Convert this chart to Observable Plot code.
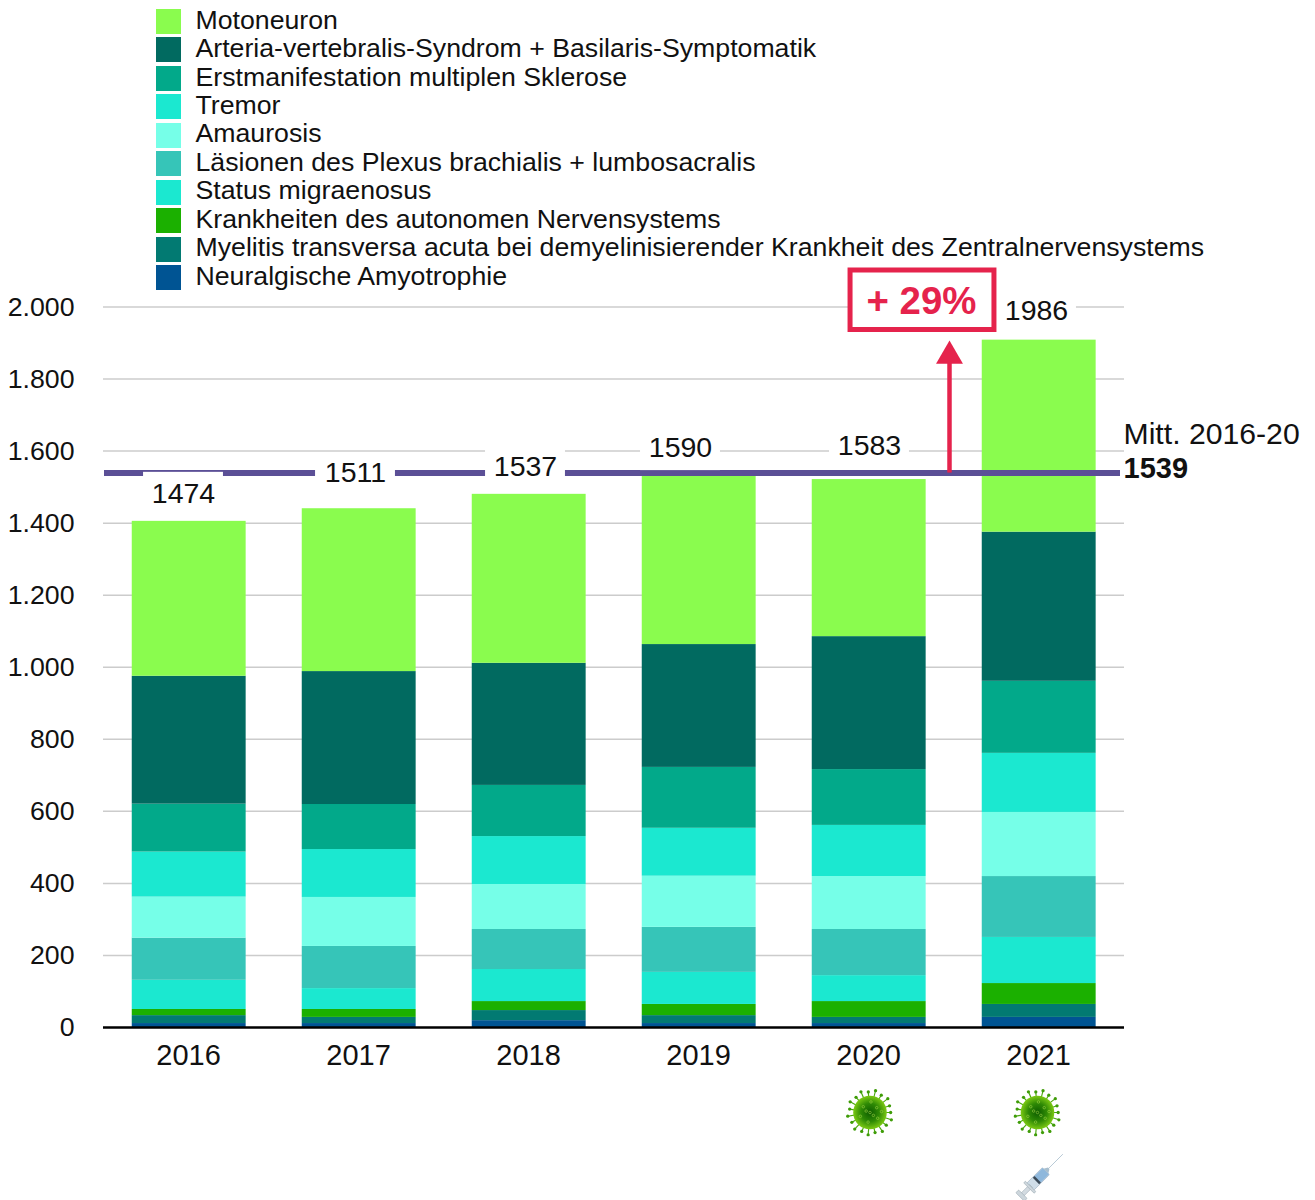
<!DOCTYPE html>
<html>
<head>
<meta charset="utf-8">
<script src="https://cdn.jsdelivr.net/npm/d3@7"></script>
<script src="https://cdn.jsdelivr.net/npm/@observablehq/plot@0.6"></script>
<style>
html,body{margin:0;padding:0;background:#fff;width:1315px;height:1200px;overflow:hidden}
#chart{position:absolute;left:0;top:0}
#legend{position:absolute;left:156px;top:7.3px;font-family:"Liberation Sans",Arial,sans-serif;font-size:26.7px;color:#111}
.row{display:flex;align-items:center;height:28.44px;white-space:nowrap}
.sw{width:25px;height:25px;margin-right:14.5px;flex:none}
.row span:last-child{position:relative;top:-1.3px}
</style>
</head>
<body>
<div id="chart"></div>
<div id="legend"></div>
<script>
// ---- data ----
const years = ["2016","2017","2018","2019","2020","2021"];
const seriesTopFirst = [
  "Motoneuron",
  "Arteria-vertebralis-Syndrom + Basilaris-Symptomatik",
  "Erstmanifestation multiplen Sklerose",
  "Tremor",
  "Amaurosis",
  "Läsionen des Plexus brachialis + lumbosacralis",
  "Status migraenosus",
  "Krankheiten des autonomen Nervensystems",
  "Myelitis transversa acuta bei demyelinisierender Krankheit des Zentralnervensystems",
  "Neuralgische Amyotrophie"
];
const seriesColors = ["#8AFC4E","#016A60","#02A98A","#1BE8D0","#76FFE8","#36C5B8","#1BE8D0","#1BB000","#027A72","#005493"];
const motoneuron = [430,452,469,469,436,533];
const arteria    = [355,369,339,341,369,414];
const erstmanif  = [133,125,142,169,155,200];
const tremor     = [125,133,133,133,142,164];
const amaurosis  = [114,136,125,142,147,178];
const laesionen  = [117,117,111,125,128,169];
const status     = [81,58,89,89,72,128];
const autonom    = [17,22,25,31,44,58];
const myelitis   = [22,17,28,22,17,36];
const neuralg    = [11,11,19,11,11,28];
const seriesValues = [motoneuron,arteria,erstmanif,tremor,amaurosis,laesionen,status,autonom,myelitis,neuralg];
const totalLabels = [1474,1511,1537,1590,1583,1986];
const yTicks = [0,200,400,600,800,1000,1200,1400,1600,1800,2000];
const average = 1539;
const averageCaption = "Mitt. 2016-20";
const changeLabel = "+ 29%";
const virusYears = ["2020","2021"];
const syringeYears = ["2021"];

// ---- derived ----
const rows = [];
for (let s = seriesTopFirst.length - 1; s >= 0; s--)
  years.forEach((year,i) => rows.push({year, series: seriesTopFirst[s], value: seriesValues[s][i]}));
const stackTop = years.map((_,i) => d3.sum(seriesValues, v => v[i]));

// ---- label placement (pixels) ----
const plotHeight = 720.5;
const toValue = px => px * 2000 / plotHeight;
const labelDx = [-5,-3,-3,-18,1,-2];
const labelDy = [-27,-36,-27,-28,-34,-29];
const plateDy = [-29,-36,-27,-25,-33,-29];
const virusDx = [1.5,-1];
const RED = "#E5234C", FONT = '"Liberation Sans",Arial,sans-serif';

// ---- icons ----
function virusSvg(){
  let s = `<svg xmlns="http://www.w3.org/2000/svg" viewBox="-50 -50 100 100"><defs><radialGradient id="g"><stop offset="0" stop-color="#0d5c00"/><stop offset=".55" stop-color="#2f8a05"/><stop offset="1" stop-color="#7cc914"/></radialGradient></defs>`;
  const n = 19;
  for (let i=0;i<n;i++){
    const a = i/n*2*Math.PI, c=Math.cos(a), t=Math.sin(a), r = i%2?47:43;
    s += `<line x1="${30*c}" y1="${30*t}" x2="${r*c}" y2="${r*t}" stroke="#49a80c" stroke-width="2.4"/><circle cx="${r*c}" cy="${r*t}" r="3.4" fill="#3f9c08"/>`;
  }
  s += `<circle r="35" fill="url(#g)"/>`;
  const ring = [[0,0],[14,-10],[-14,-12],[-20,8],[16,12],[2,-22],[-4,20],[24,-2],[-8,-3],[7,6]];
  ring.forEach(([x,y])=>{s += `<circle cx="${x}" cy="${y}" r="2.6" fill="none" stroke="#a8d84a" stroke-width="1.1"/>`;});
  return "data:image/svg+xml," + encodeURIComponent(s + "</svg>");
}
function syringeSvg(){
  const s = `<svg xmlns="http://www.w3.org/2000/svg" viewBox="0 0 100 100"><g transform="rotate(-45 50 50)">
  <line x1="70" y1="50" x2="116" y2="50" stroke="#9fb6c8" stroke-width="1.4"/>
  <rect x="24" y="40" width="44" height="20" rx="2" fill="#cfdde8" stroke="#8ea4b4"/>
  <rect x="44" y="41" width="24" height="18" fill="#8fb8dc"/>
  <rect x="40" y="41" width="5" height="18" fill="#3b4a58"/>
  <path d="M68 43 L76 48 L76 52 L68 57Z" fill="#a9bfce"/>
  <rect x="2" y="46" width="24" height="8" fill="#d3dbe1" stroke="#97a6b0"/>
  <rect x="-5" y="38" width="8" height="24" rx="2" fill="#cdd6dc" stroke="#95a3ad"/>
  <rect x="20" y="35" width="5" height="30" rx="2" fill="#cdd6dc" stroke="#95a3ad"/>
  </g></svg>`;
  return "data:image/svg+xml," + encodeURIComponent(s);
}

const fmt = d3.formatLocale({decimal:",",thousands:".",grouping:[3],currency:["","€"]}).format(",");

const chart = Plot.plot({
  width:1315, height:1200,
  marginTop:306.5, marginBottom:173, marginLeft:103, marginRight:192,
  style:{fontFamily:FONT, background:"transparent", color:"#111", overflow:"visible"},
  x:{domain:years, paddingInner:0.33, paddingOuter:0.165, round:false, label:null},
  y:{domain:[0,2000], label:null},
  color:{type:"ordinal", domain:seriesTopFirst, range:seriesColors},
  marks:[
    Plot.ruleY(yTicks.filter(d=>d>0), {stroke:"#cccccc", strokeWidth:1.5, insetRight:-1}),
    Plot.axisY({ticks:yTicks, tickSize:0, tickPadding:29, tickFormat:fmt, fontSize:26.7, label:null}),
    Plot.axisX({tickSize:0, tickPadding:17, fontSize:29, label:null}),
    Plot.barY(rows,{x:"year", y:"value", fill:"series", order:seriesTopFirst.slice().reverse(), dx:0.7}),
    Plot.ruleY([0],{stroke:"#000", strokeWidth:2.5, insetRight:-1}),
    Plot.ruleY([average],{stroke:"#5B4F96", strokeWidth:6, insetLeft:1, insetRight:3}),
    // total labels on white plates
    years.map((year,i)=>[
      Plot.barY([i],{x:()=>year,
        y1:()=>stackTop[i]-toValue(plateDy[i]-20),
        y2:()=>stackTop[i]-toValue(plateDy[i]+20),
        fill:"#fff", insetLeft:17+labelDx[i], insetRight:17-labelDx[i]}),
      Plot.text([totalLabels[i]],{x:()=>year, y:()=>stackTop[i], text:d=>String(d),
        dx:labelDx[i], dy:labelDy[i], fontSize:28.5, fill:"#111"})
    ]),
    // average caption
    Plot.text([averageCaption],{y:()=>average, frameAnchor:"right", textAnchor:"start", dy:-39, fontSize:30.2, fill:"#111"}),
    Plot.text([average],{y:()=>average, text:d=>String(d), frameAnchor:"right", textAnchor:"start", dy:-4, fontSize:29, fontWeight:"bold", fill:"#111"}),
    // +29 % annotation
    Plot.ruleX(["2020"],{x:d=>d, y1:()=>average, y2:()=>average+toValue(110), stroke:RED, strokeWidth:4.5, dx:81}),
    Plot.dot(["2020"],{x:d=>d, y:()=>average+toValue(117), symbol:"triangle", r:10, fill:RED, stroke:"none", dx:81}),
    Plot.barY(["2020"],{x:d=>d, y1:()=>toValue(757), y2:()=>toValue(697.5), fill:"#fff", stroke:RED, strokeWidth:5, insetLeft:39, insetRight:-69}),
    Plot.text([changeLabel],{x:()=>"2020", y:()=>toValue(725.5), dx:53, fontSize:38.4, fontWeight:"bold", fill:RED}),
    // icons
    virusYears.map((year,i)=>Plot.image([year],{x:d=>d, y:()=>-toValue(85), src:()=>virusSvg(), width:48, height:48, dx:virusDx[i]})),
    Plot.image(syringeYears,{x:d=>d, y:()=>-toValue(150), src:()=>syringeSvg(), width:50, height:50, dx:1})
  ]
});
document.getElementById("chart").append(chart);

const legend = document.getElementById("legend");
seriesTopFirst.forEach((name,i)=>{
  const row = document.createElement("div"); row.className="row";
  const sw = document.createElement("span"); sw.className="sw"; sw.style.background=seriesColors[i];
  const t = document.createElement("span"); t.textContent=name;
  row.append(sw,t); legend.append(row);
});
</script>
</body>
</html>
